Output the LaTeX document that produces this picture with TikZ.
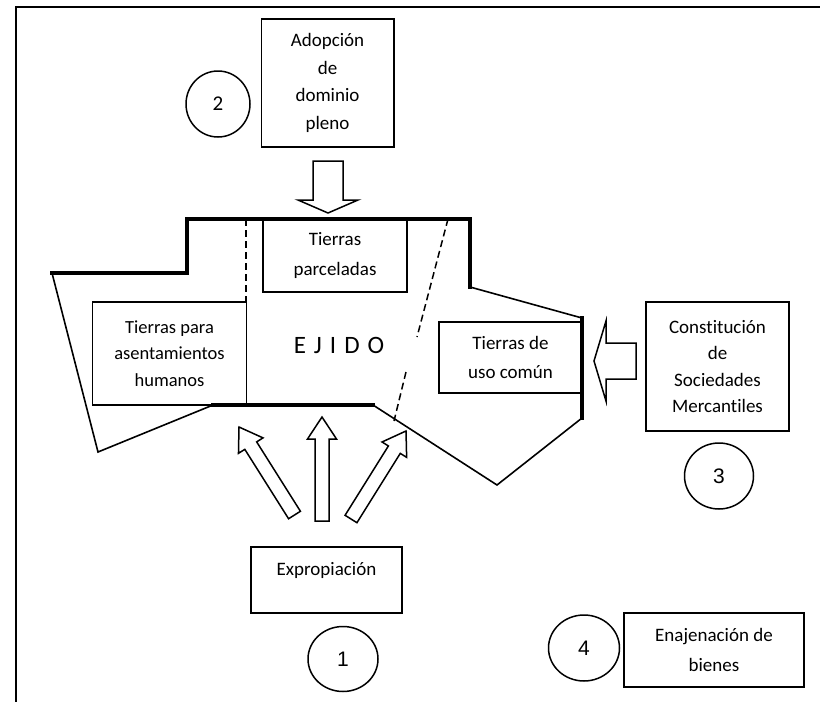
\documentclass[tikz,border=0pt]{standalone}
\usepackage{fontspec}
\setmainfont{Carlito}[Ligatures=NoCommon, RawFeature=-clig, RawFeature=-calt]
\newfontfamily\arialfont{Liberation Sans}
\usepackage{tikz}
\usetikzlibrary{calc,positioning,shapes.geometric}

% block arrow: tail, tip, half shaft, half head, head length
\newcommand{\blockarrow}[5]{%
  \coordinate (ba) at ($(#2)!#5!(#1)$);
  \draw[blockline] ($(#1)!#3!90:(#2)$) -- ($(ba)!#3!90:(#2)$) -- ($(ba)!#4!90:(#2)$) -- (#2)
    -- ($(ba)!#4!-90:(#2)$) -- ($(ba)!#3!-90:(#2)$) -- ($(#1)!#3!-90:(#2)$) -- cycle;}

\begin{document}
\begin{tikzpicture}[x=1pt, y=-1pt,
    box/.style={draw, line width=1.5pt, align=center, inner sep=0pt,
      font=\fontsize{19}{26.5}\selectfont},
    numcirc/.style={draw, ellipse, line width=1.5pt, inner sep=0pt},
    thickline/.style={line width=3.4pt, line cap=rect},
    thinline/.style={line width=1.6pt},
    dashline/.style={line width=1.5pt, dash pattern=on 7pt off 4pt},
    blockline/.style={fill=white, line width=1.5pt, line join=miter}]
    \useasboundingbox (0,0) rectangle (820,702);
    \draw[line width=2.2pt] (820,7) -- (16,7) -- (16,702);

    % the ejido outline
    \coordinate (e1) at (187,219);
    \coordinate (e2) at (470,219);
    \coordinate (e3) at (470,287);
    \coordinate (e4) at (582,318);
    \coordinate (e5) at (582,418);
    \coordinate (e6) at (497,485);
    \coordinate (e7) at (373,405);
    \coordinate (e8) at (213,405);
    \coordinate (e9) at (98,452);
    \coordinate (e10) at (52,273);
    \coordinate (e11) at (187,273);
    \draw[thickline] (e10) -- (e11) -- (e1) -- (e2) -- (e3);
    \draw[thinline] (e3) -- (e4);
    \draw[thickline] (e4) -- (e5);
    \draw[thinline] (e5) -- (e6) -- (e7);
    \draw[thickline] (e7) -- (e8);
    \draw[thinline] (e8) -- (e9) -- (e10);

    \draw[dashline] (246,219) -- (246,302);
    \draw[dashline] (448,219) -- (417,337);
    \draw[dashline] (406,372) -- (394,421);

    % lands
    \node[box, minimum width=144, minimum height=73, font=\fontsize{19}{29.5}\selectfont] (parc) at (335,255.5) {Tierras\\parceladas};
    \node[box, minimum width=154, minimum height=103, font=\fontsize{18.5}{26.5}\selectfont] (asent) at (169.5,353.5) {Tierras para\\asentamientos\\humanos};
    \node[box, minimum width=143, minimum height=71, font=\fontsize{19}{29.5}\selectfont] (comun) at (510.5,357.5) {Tierras de\\uso común};
    \node[font=\fontsize{25}{25}\selectfont] (ejido) at (339,345) {E\hspace{8pt}J\hspace{8pt}I\hspace{8pt}D\hspace{8pt}O};

    % acts
    \node[box, minimum width=132.5, minimum height=128, font=\fontsize{19}{27.5}\selectfont] (adop) at (327.5,83) {Adopción\\de\\dominio\\pleno};
    \node[box, minimum width=143, minimum height=129] (const) at (717.5,366.5) {Constitución\\de\\Sociedades\\Mercantiles};
    \node[box, minimum width=151, minimum height=66, text height=14pt, text depth=24pt] (exprop) at (326.5,580) {Expropiación};
    \node[box, minimum width=180, minimum height=74, font=\fontsize{19}{29.5}\selectfont] (enaj) at (714,650) {Enajenación de\\bienes};

    \node[numcirc, minimum width=64, minimum height=66] (n2) at (218,104) {\fontsize{21}{21}\selectfont 2};
    \node[numcirc, minimum width=70, minimum height=65] (n1) at (343,659) {\arialfont\fontsize{21}{21}\selectfont 1};
    \node[numcirc, minimum width=69, minimum height=66] (n3) at (719,476) {\arialfont\fontsize{21}{21}\selectfont 3};
    \node[numcirc, minimum width=71, minimum height=66] (n4) at (584,648) {\arialfont\fontsize{21}{21}\selectfont 4};

    % arrows
    \coordinate (adop-t) at (328,161);
    \coordinate (adop-h) at (328,213);
    \coordinate (const-t) at (636,361);
    \coordinate (const-h) at (594,361);
    \coordinate (expl-t) at (294.5,515);
    \coordinate (expl-h) at (239,427);
    \coordinate (expm-t) at (322,521);
    \coordinate (expm-h) at (322,417);
    \coordinate (expr-t) at (351,519);
    \coordinate (expr-h) at (406,431);
    \blockarrow{adop-t}{adop-h}{15pt}{30pt}{13pt}
    \blockarrow{const-t}{const-h}{18pt}{40pt}{12pt}
    \blockarrow{expl-t}{expl-h}{7pt}{14.5pt}{22pt}
    \blockarrow{expm-t}{expm-h}{7pt}{14.5pt}{22pt}
    \blockarrow{expr-t}{expr-h}{7pt}{14.5pt}{22pt}
\end{tikzpicture}
\end{document}
